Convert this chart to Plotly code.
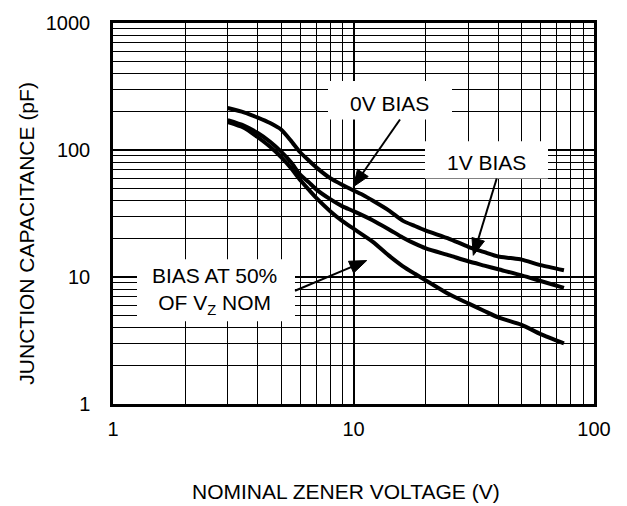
import math
import plotly.graph_objects as go

# Data (V, pF)
x_0v = [3, 3.5, 4, 4.5, 5, 5.5, 6, 6.5, 7, 8, 9, 10, 11, 12, 14, 16, 18, 20, 25, 30, 35, 40, 45, 50, 60, 75]
y_0v = [214, 198, 180, 163, 145, 118, 96, 83, 73, 60, 53, 48, 44, 40, 33.5, 27.8, 25.2, 23.2, 20, 17.3, 15.7, 14.5, 14.1, 13.7, 12.4, 11.3]

x_1v = [3, 3.5, 4, 4.5, 5, 5.5, 6, 6.5, 7, 8, 9, 10, 12, 14, 16, 18, 20, 25, 30, 35, 40, 50, 60, 75]
y_1v = [172, 156, 136, 116, 97, 80, 64, 56, 49, 41, 36, 33, 28, 23.8, 20.5, 18.3, 16.8, 14.8, 13.3, 12.3, 11.5, 10.3, 9.3, 8.2]

x_50 = [3, 3.5, 4, 4.5, 5, 5.5, 6, 6.5, 7, 8, 9, 10, 12, 14, 16, 18, 20, 25, 30, 35, 40, 50, 60, 75]
y_50 = [166, 150, 126, 106, 88, 72, 58, 49, 42, 33, 27.5, 24, 19, 14.8, 12.2, 10.6, 9.4, 7.3, 6.2, 5.4, 4.8, 4.2, 3.55, 3.0]

x_ticks = [1, 10, 100]
y_ticks = [1, 10, 100, 1000]

FONT = "Liberation Sans, Arial, sans-serif"

fig = go.Figure()
for xs, ys in [(x_0v, y_0v), (x_1v, y_1v), (x_50, y_50)]:
    fig.add_trace(go.Scatter(x=xs, y=ys, mode="lines",
                             line=dict(color="black", width=4, shape="spline", smoothing=0.6),
                             showlegend=False, hoverinfo="skip"))

L, R, T, B = 113, 594, 17, 404
W, H = 627, 506

def px(xp):
    return (xp - L) / (R - L)

def py(yp):
    return (B - yp) / (B - T)

# white label boxes (paper coords)
boxes = [(328, 76, 452, 115), (425, 137, 548, 175), (137, 257, 295, 320)]
for x0, y0, x1, y1 in boxes:
    fig.add_shape(type="rect", xref="paper", yref="paper",
                  x0=px(x0), x1=px(x1), y0=py(y1), y1=py(y0),
                  fillcolor="white", line=dict(width=0), layer="above")

ann_font = dict(family=FONT, size=21, color="black")
common = dict(xref="paper", yref="paper", xanchor="center", yanchor="middle", showarrow=False)
fig.add_annotation(x=px(389.5), y=py(98.5), text="0V BIAS", font=ann_font, **common)
fig.add_annotation(x=px(486), y=py(159), text="1V BIAS", font=ann_font, **common)
fig.add_annotation(x=px(214.5), y=py(289),
                   text="BIAS AT 50%<br>OF V<sub>Z</sub> NOM",
                   font=ann_font, align="center", **common)

# arrows: (tip, tail) in pixel coords, drawn as line + filled triangle
arrows = [((353.3, 183.3), (400, 115)),
          ((473.3, 253), (496.7, 175)),
          ((366.7, 258.3), (295, 289))]
HEAD_LEN, HEAD_HALF = 17, 6.5
for (tx, ty), (sx, sy) in arrows:
    dx, dy = tx - sx, ty - sy
    d = math.hypot(dx, dy)
    ux, uy = dx / d, dy / d
    bx, by = tx - ux * HEAD_LEN, ty - uy * HEAD_LEN
    nx, ny = -uy, ux
    fig.add_shape(type="line", xref="paper", yref="paper",
                  x0=px(sx), y0=py(sy), x1=px(bx + ux * 2), y1=py(by + uy * 2),
                  line=dict(color="black", width=2), layer="above")
    p1 = (px(tx), py(ty))
    p2 = (px(bx + nx * HEAD_HALF), py(by + ny * HEAD_HALF))
    p3 = (px(bx - nx * HEAD_HALF), py(by - ny * HEAD_HALF))
    path = f"M {p1[0]} {p1[1]} L {p2[0]} {p2[1]} L {p3[0]} {p3[1]} Z"
    fig.add_shape(type="path", xref="paper", yref="paper", path=path,
                  fillcolor="black", line=dict(color="black", width=1), layer="above")

# axis titles
title_font = dict(family=FONT, size=21, color="black")
fig.add_annotation(x=px(345.5), y=py(493),
                   text="NOMINAL ZENER VOLTAGE (V)", font=title_font, **common)
fig.add_annotation(x=px(26.5), y=py(230.5),
                   text="JUNCTION CAPACITANCE (pF)", font=title_font,
                   textangle=-90, **common)

tick_font = dict(family=FONT, size=20, color="black")
fig.update_xaxes(type="log", range=[0, 2], tickvals=x_ticks, ticktext=[str(v) for v in x_ticks],
                 showgrid=True, gridcolor="black", gridwidth=1.5,
                 minor=dict(dtick="D1", showgrid=True, gridcolor="black", gridwidth=1.3, ticks=""),
                 showline=True, mirror=True, linecolor="black", linewidth=2.5,
                 ticks="", tickfont=tick_font, ticklabelstandoff=5, zeroline=False)
fig.update_yaxes(type="log", range=[0, 3], tickvals=y_ticks, ticktext=[str(v) for v in y_ticks],
                 showgrid=True, gridcolor="black", gridwidth=1.5,
                 minor=dict(dtick="D1", showgrid=True, gridcolor="black", gridwidth=1.3, ticks=""),
                 showline=True, mirror=True, linecolor="black", linewidth=2.5,
                 ticks="", tickfont=tick_font, ticklabelstandoff=16, zeroline=False)

fig.update_layout(width=W, height=H, margin=dict(l=L, r=W - R, t=T, b=H - B),
                  paper_bgcolor="white", plot_bgcolor="white", showlegend=False)

fig.write_html("out.html")
